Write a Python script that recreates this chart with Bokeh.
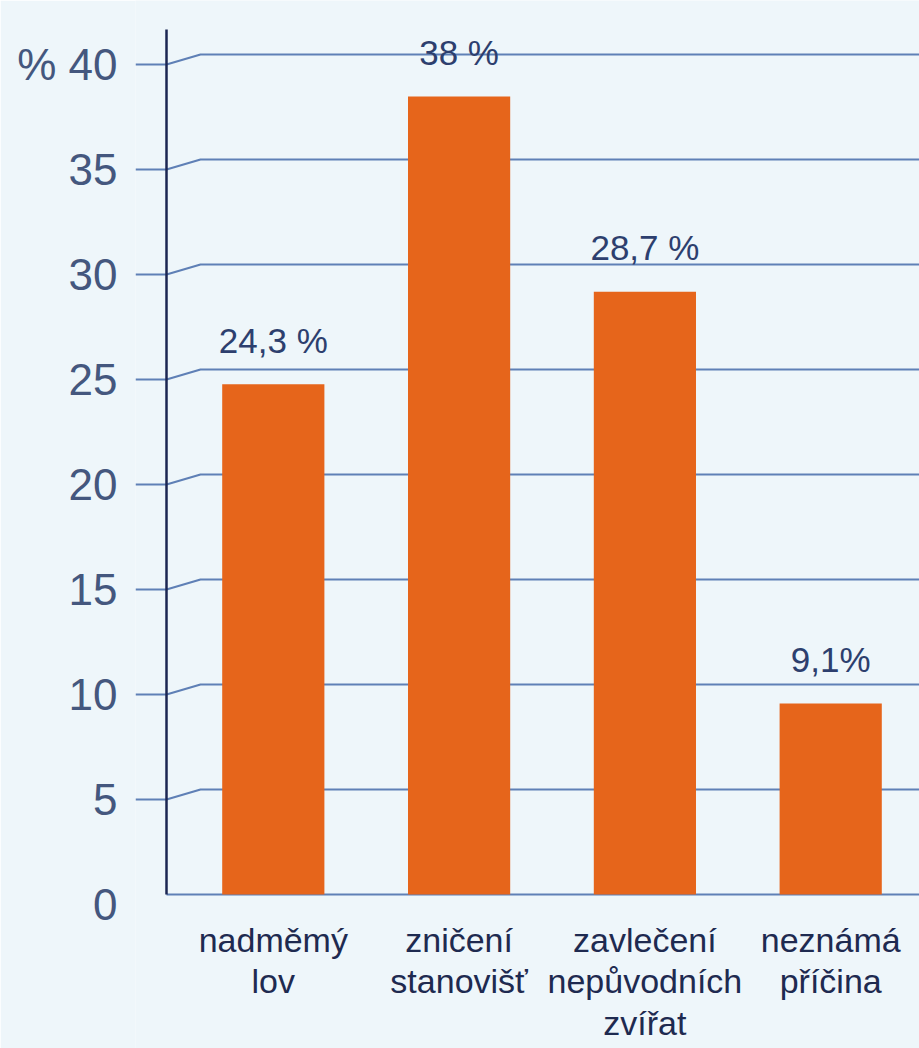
from bokeh.plotting import figure
from bokeh.models import Range1d, LinearAxis, FixedTicker, ColumnDataSource
from bokeh.core.properties import value
from bokeh.embed import file_html
from bokeh.resources import INLINE

# ---- data ----
categories = ["nadměmý\nlov", "zničení\nstanovišť", "zavlečení\nnepůvodních\nzvířat", "neznámá\npříčina"]
values = [24.3, 38.0, 28.7, 9.1]
value_labels = ["24,3 %", "38 %", "28,7 %", "9,1%"]
y_ticks = [0, 5, 10, 15, 20, 25, 30, 35, 40]
y_tick_labels = {40: "% 40"}

# ---- layout constants ----
W, H = 919, 1048
PX_X = 185.8          # pixels per category
PX_Y = 21.0           # pixels per percent
LEFT = 135            # frame left (canvas px)
Y0 = 894              # canvas y of value 0 (back plane)

x_start = -(272.8 - LEFT) / PX_X
x_end = x_start + (W - LEFT) / PX_X
y_end = Y0 / PX_Y
y_start = -(H - Y0) / PX_Y
off = 10 / PX_Y                 # front (tick) plane is 10px lower
ax = x_start + 31 / PX_X        # vertical axis line position
dx = 34 / PX_X                  # diagonal run of gridlines
axis_top = (Y0 - 29) / PX_Y

FONT = value("Liberation Sans")
BG = "#eef6fa"
GRID = "#5f80b6"
NAVY = "#1b2652"

xs_cat = list(range(len(categories)))

p = figure(width=W, height=H, x_range=Range1d(x_start, x_end), y_range=Range1d(y_start, y_end),
           output_backend="svg", toolbar_location=None,
           x_axis_location=None, y_axis_location=None,
           min_border_left=LEFT, min_border_right=0, min_border_top=0, min_border_bottom=0)
p.extra_y_ranges = {"ticks": Range1d(y_start + off, y_end + off)}
p.background_fill_color = BG
p.border_fill_color = BG
p.outline_line_color = None
p.grid.grid_line_color = None

yaxis = LinearAxis(y_range_name="ticks", ticker=FixedTicker(ticks=y_ticks),
                   major_label_overrides=y_tick_labels)
yaxis.axis_line_color = None
yaxis.major_tick_out = 0
yaxis.major_tick_in = 0
yaxis.minor_tick_line_color = None
yaxis.major_label_standoff = 18
yaxis.major_label_text_font = "Liberation Sans"
yaxis.major_label_text_font_size = "44px"
yaxis.major_label_text_color = "#44577e"
p.add_layout(yaxis, "left")

# gridlines (back plane) with diagonal join to the axis
g_xs, g_ys = [], []
for v in y_ticks:
    if v == 0:
        g_xs.append([ax, x_end]); g_ys.append([0, 0])
    else:
        g_xs.append([ax, ax + dx, x_end]); g_ys.append([v - off, v, v])
p.multi_line(xs=g_xs, ys=g_ys, line_color=GRID, line_width=2.2)

# tick marks (front plane)
tv = [v - off for v in y_ticks if v != 0]
p.segment(x0=[x_start] * len(tv), y0=tv, x1=[ax] * len(tv), y1=tv, line_color=GRID, line_width=2.2)

# vertical axis line
p.segment(x0=[ax], y0=[0], x1=[ax], y1=[axis_top], line_color=NAVY, line_width=2.5)

src = ColumnDataSource(dict(x=xs_cat, top=values, lab=value_labels, cat=categories))
p.vbar(x="x", top="top", bottom=0, width=0.55, source=src, fill_color="#e6651b", line_color=None)

p.text(x="x", y="top", text="lab", source=src, text_align="center", text_baseline="alphabetic",
       y_offset=-44, text_font=FONT, text_font_size=value("35px"), text_color="#2d3f6e")

p.text(x="x", y=0, text="cat", source=src, text_align="center", text_baseline="top",
       y_offset=26, text_font=FONT, text_font_size=value("34px"), text_color="#1e2a50",
       text_line_height=1.1)

open("out.html", "w").write(file_html(p, INLINE))
